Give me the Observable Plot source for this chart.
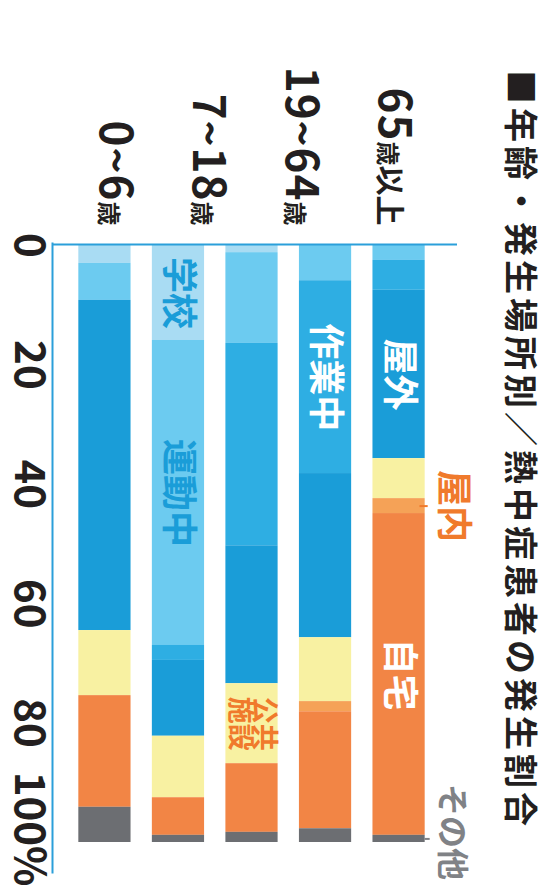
<!DOCTYPE html>
<html>
<head>
<meta charset="utf-8">
<script src="https://cdn.jsdelivr.net/npm/d3@7"></script>
<script src="https://cdn.jsdelivr.net/npm/@observablehq/plot@0.6"></script>
<style>
  html, body { margin: 0; padding: 0; background: #fff; width: 549px; height: 888px; overflow: hidden; }
  #rot { position: absolute; left: 0; top: 0; width: 888px; height: 549px;
         transform-origin: 0 0; transform: translate(549px, 0) rotate(90deg);
         font-family: "Noto Sans CJK JP", "Noto Sans", sans-serif; }
  #rot svg { position: absolute; left: 0; top: 0; }
  #title { position: absolute; left: 70px; top: 10px; font-size: 34px; line-height: 34px;
           font-weight: 700; letter-spacing: 4px; white-space: nowrap; color: #231f20; }
</style>
</head>
<body>
<div id="rot"><div id="title">■年齢・発生場所別／熱中症患者の発生割合</div></div>
<script>
// ---- data (percent of patients by place) ----
const barKeys = ["0~6歳", "7~18歳", "19~64歳①", "19~64歳②", "65歳以上"]; // bottom → top
const axisLabels = ["65歳以上", "19~64歳", "7~18歳", "0~6歳"];
const series = ["学校", "運動中", "作業中", "屋外", "公共施設", "屋内", "自宅", "その他"];
const colors = ["#a9dcf3", "#6ccbf0", "#2eaee3", "#1a9dd8", "#f8f1a2", "#f5a257", "#f28545", "#6c6e72"];
const school    = [3.0, 15.9,  1.2,  0.0,  0.0];
const sports    = [6.2, 51.1, 15.2,  5.9,  2.5];
const work      = [0.0,  2.5, 33.9, 32.3,  5.0];
const outdoor   = [55.3, 12.7, 23.1, 27.5, 28.2];
const publicFac = [10.9, 10.3, 13.4, 10.7,  6.7];
const indoor    = [0.0,  0.0,  0.0,  1.7,  2.5];
const home      = [18.7,  6.3, 11.5, 19.6, 53.9];
const other     = [5.9,  1.2,  1.7,  2.3,  1.2];
const xTicks = [0, 20, 40, 60, 80, 100];

// ---- table built from the arrays ----
const seriesValues = [school, sports, work, outdoor, publicFac, indoor, home, other];
const rows = [];
barKeys.forEach((bar, i) => {
  let acc = 0;
  series.forEach((s, j) => {
    const v = seriesValues[j][i];
    if (v > 0) rows.push({bar, series: s, x1: acc, x2: acc + v, mid: acc + v / 2});
    acc += v;
  });
});
const seg = (bar, s) => rows.find(r => r.bar === bar && r.series === s);

const whiteLabels = [seg("65歳以上", "屋外"), seg("65歳以上", "自宅"), seg("19~64歳②", "作業中")];
const blueLabels = [seg("7~18歳", "学校"), seg("7~18歳", "運動中")];
const orangeLabels = [seg("19~64歳①", "公共施設")];
const indoorNote = [seg("65歳以上", "屋内")];
const otherNote = [seg("65歳以上", "その他")];

const FONT = '"Noto Sans CJK JP", "Noto Sans", sans-serif';
const axisBlue = "#2b9fda";
const orangeText = "#f07a2c";
const grayText = "#808286";

const chart = Plot.plot({
  width: 888, height: 549,
  marginTop: 103, marginBottom: 57, marginLeft: 245, marginRight: 46,
  style: {background: "none", fontFamily: FONT, overflow: "visible"},
  x: {domain: [0, 100]},
  y: {type: "band", domain: barKeys.slice().reverse(), padding: 0.29, round: false, axis: null},
  color: {domain: series, range: colors},
  marks: [
    Plot.barX(rows, {x1: "x1", x2: "x2", y: "bar", fill: "series"}),
    Plot.ruleX([0], {stroke: axisBlue, strokeWidth: 2, insetTop: -11, insetBottom: -4, dx: -1}),
    Plot.frame({anchor: "bottom", stroke: axisBlue, strokeWidth: 2, insetBottom: -4, insetLeft: -2, insetRight: -30}),
    Plot.axisX({ticks: xTicks, tickFormat: d => d === 100 ? "100%" : String(d), tickSize: 0, tickPadding: 12,
                fontSize: 42, fontWeight: "bold", fill: "#231f20"}),
    Plot.text(whiteLabels, {x: "mid", y: "bar", text: "series", fill: "#fff", fontSize: 36, fontWeight: "bold"}),
    Plot.text(blueLabels, {x: "mid", y: "bar", text: "series", fill: "#1a9dd8", fontSize: 36, fontWeight: "bold"}),
    Plot.text(orangeLabels, {x: "mid", y: "bar", text: d => d.series.slice(0, 2) + "\n" + d.series.slice(2),
                fill: orangeText, fontSize: 27, lineHeight: 0.92, fontWeight: "bold"}),
    Plot.text(indoorNote, {x: "mid", y: "bar", text: "series", dy: -54, fill: orangeText, fontSize: 36, fontWeight: "bold"}),
    Plot.tickX(indoorNote, {x: "mid", y: "bar", stroke: orangeText, strokeWidth: 2, insetTop: -3, insetBottom: 47}),
    Plot.text(otherNote, {x: "mid", y: "bar", text: "series", dy: -53, dx: -55, textAnchor: "start",
                fill: grayText, fontSize: 32, fontWeight: "bold"}),
    Plot.tickX(otherNote, {x: "mid", y: "bar", stroke: grayText, strokeWidth: 2, insetTop: -5, insetBottom: 52})
  ]
});

// keep the last tick label ("100%") inside the picture: end-anchor it
const xLabels = chart.querySelectorAll('g[aria-label="x-axis tick label"] text');
if (xLabels.length) {
  const last = xLabels[xLabels.length - 1];
  last.setAttribute("text-anchor", "end");
  last.setAttribute("dx", 44);
}

const labelsPlot = Plot.plot({
  width: 888, height: 549,
  marginTop: 107, marginBottom: 67, marginLeft: 245, marginRight: 46,
  style: {background: "none", fontFamily: FONT, overflow: "visible"},
  y: {type: "band", domain: axisLabels, padding: 0},
  marks: [
    Plot.axisY({tickSize: 0, tickPadding: 20, fontSize: 44, fontWeight: "bold", fill: "#231f20"})
  ]
});

// mixed type sizes in the age labels (digits large, 歳 small)
labelsPlot.querySelectorAll('g[aria-label="y-axis tick label"] text').forEach(t => {
  const s = t.textContent;
  t.textContent = "";
  for (const part of s.match(/[0-9~]+|歳|[^0-9~歳]+/g)) {
    const ts = document.createElementNS("http://www.w3.org/2000/svg", "tspan");
    ts.textContent = part;
    if (/[0-9~]/.test(part)) { ts.setAttribute("font-size", 44); ts.setAttribute("letter-spacing", 1); }
    else if (part === "歳") ts.setAttribute("font-size", 24);
    else ts.setAttribute("font-size", 30);
    t.appendChild(ts);
  }
});

const rot = document.getElementById("rot");
rot.insertBefore(labelsPlot, rot.firstChild);
rot.insertBefore(chart, rot.firstChild);
</script>
</body>
</html>
